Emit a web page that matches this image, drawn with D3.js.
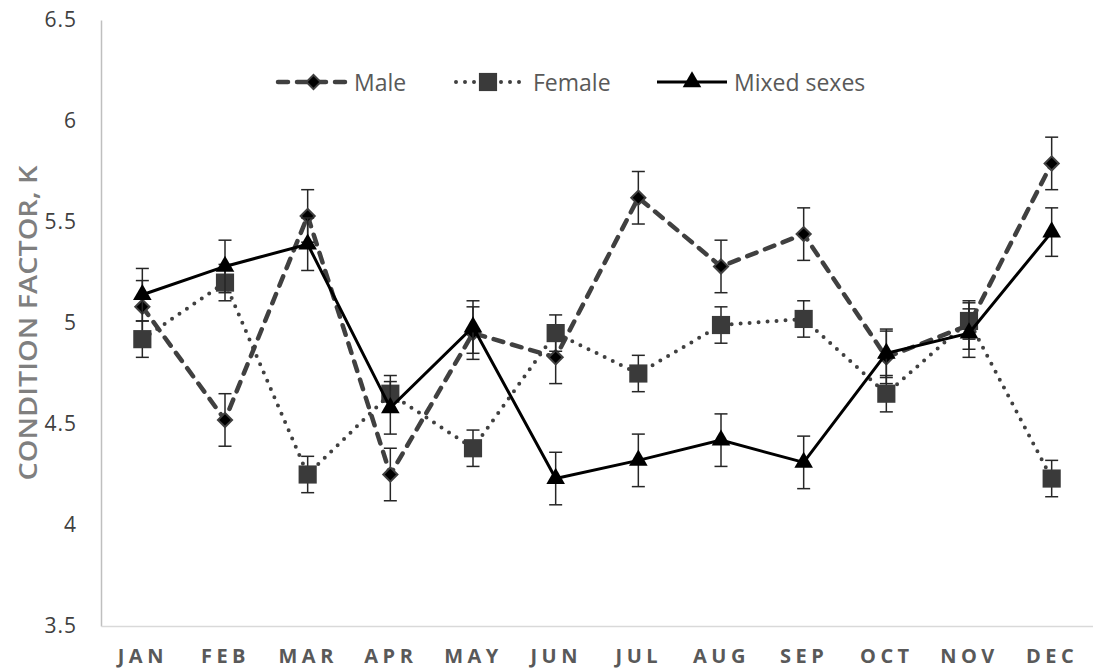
<!DOCTYPE html>
<html>
<head>
<meta charset="utf-8">
<script src="https://cdn.jsdelivr.net/npm/d3@7"></script>
<style>
  body { margin: 0; background: #fff; }
  svg { display: block; }
</style>
</head>
<body>
<div id="chart"></div>
<script>
// month categories and condition factor values
const months = ["JAN", "FEB", "MAR", "APR", "MAY", "JUN", "JUL", "AUG", "SEP", "OCT", "NOV", "DEC"];
const male = [5.08, 4.52, 5.53, 4.25, 4.95, 4.83, 5.62, 5.28, 5.44, 4.83, 4.99, 5.79];
const maleErr = [0.13, 0.13, 0.13, 0.13, 0.13, 0.13, 0.13, 0.13, 0.13, 0.13, 0.12, 0.13];
const female = [4.92, 5.20, 4.25, 4.65, 4.38, 4.95, 4.75, 4.99, 5.02, 4.65, 5.01, 4.23];
const femaleErr = [0.09, 0.09, 0.09, 0.09, 0.09, 0.09, 0.09, 0.09, 0.09, 0.09, 0.09, 0.09];
const mixed = [5.14, 5.28, 5.39, 4.58, 4.98, 4.23, 4.32, 4.42, 4.31, 4.85, 4.95, 5.45];
const mixedErr = [0.13, 0.13, 0.13, 0.13, 0.13, 0.13, 0.13, 0.13, 0.13, 0.12, 0.12, 0.12];
const yTicks = [3.5, 4, 4.5, 5, 5.5, 6, 6.5];

const width = 1093, height = 670;
const margin = { left: 101, right: 0, top: 20, bottom: 44 };

const svg = d3.select("#chart").append("svg")
  .attr("width", width)
  .attr("height", height);

const x = d3.scalePoint()
  .domain(months)
  .range([margin.left, width - margin.right])
  .padding(0.5);

const y = d3.scaleLinear()
  .domain([3.5, 6.5])
  .range([height - margin.bottom, margin.top]);

// y axis
const yAxisGroup = svg.append("g")
  .attr("transform", "translate(" + margin.left + ",0)")
  .call(d3.axisLeft(y).tickValues(yTicks).tickSize(0).tickPadding(24).tickFormat(d => String(d)));
yAxisGroup.select(".domain").attr("stroke", "#bfbfbf").attr("stroke-width", 1.5);
yAxisGroup.selectAll("text")
  .style("font-family", "'Open Sans', sans-serif")
  .style("font-size", "21px")
  .style("letter-spacing", "1px")
  .attr("fill", "#404040");

// x axis
const xAxisGroup = svg.append("g")
  .attr("transform", "translate(0," + (height - margin.bottom) + ")")
  .call(d3.axisBottom(x).tickSize(0).tickPadding(23));
xAxisGroup.select(".domain").attr("stroke", "#d9d9d9").attr("stroke-width", 1.5);
xAxisGroup.selectAll("text")
  .style("font-family", "'Open Sans', sans-serif")
  .style("font-size", "20px")
  .style("font-weight", "bold")
  .style("letter-spacing", "4.5px")
  .attr("fill", "#595959");

// y axis title (condensed look)
svg.append("text")
  .attr("transform", "translate(30," + y(5) + ") rotate(-90)")
  .attr("text-anchor", "middle")
  .attr("dominant-baseline", "middle")
  .attr("textLength", 315)
  .attr("lengthAdjust", "spacingAndGlyphs")
  .style("font-family", "'Open Sans', sans-serif")
  .style("font-size", "26px")
  .style("font-weight", "600")
  .attr("fill", "#7f7f7f")
  .text("CONDITION FACTOR, K");

const series = [
  { name: "Male", values: male, err: maleErr, color: "#404040", width: 4.5, dash: "10,9", cap: "round",
    symbol: d3.symbol().type(d3.symbolSquare).size(100)(), rotate: 45, fill: "#000", stroke: "#404040" },
  { name: "Female", values: female, err: femaleErr, color: "#404040", width: 4, dash: "0,9", cap: "round",
    symbol: d3.symbol().type(d3.symbolSquare).size(330)(), rotate: 0, fill: "#3a3a3a", stroke: "none" },
  { name: "Mixed sexes", values: mixed, err: mixedErr, color: "#000", width: 3, dash: null, cap: "butt",
    symbol: d3.symbol().type(d3.symbolTriangle).size(150)(), rotate: 0, fill: "#000", stroke: "none" }
];

const line = d3.line()
  .x((d, i) => x(months[i]))
  .y(d => y(d));

series.forEach(s => {
  const g = svg.append("g").attr("class", "series");

  g.append("path")
    .datum(s.values)
    .attr("d", line)
    .attr("fill", "none")
    .attr("stroke", s.color)
    .attr("stroke-width", s.width)
    .attr("stroke-dasharray", s.dash)
    .attr("stroke-linecap", s.cap);

  // error bars
  const eb = g.selectAll(".err")
    .data(s.values)
    .enter()
    .append("g")
    .attr("class", "err")
    .attr("stroke", "#262626")
    .attr("stroke-width", 1.5);
  eb.append("line")
    .attr("x1", (d, i) => x(months[i]))
    .attr("x2", (d, i) => x(months[i]))
    .attr("y1", (d, i) => y(d - s.err[i]))
    .attr("y2", (d, i) => y(d + s.err[i]));
  eb.append("line")
    .attr("x1", (d, i) => x(months[i]) - 6.5)
    .attr("x2", (d, i) => x(months[i]) + 6.5)
    .attr("y1", (d, i) => y(d + s.err[i]))
    .attr("y2", (d, i) => y(d + s.err[i]));
  eb.append("line")
    .attr("x1", (d, i) => x(months[i]) - 6.5)
    .attr("x2", (d, i) => x(months[i]) + 6.5)
    .attr("y1", (d, i) => y(d - s.err[i]))
    .attr("y2", (d, i) => y(d - s.err[i]));

  g.selectAll(".mark")
    .data(s.values)
    .enter()
    .append("path")
    .attr("class", "mark")
    .attr("d", s.symbol)
    .attr("transform", (d, i) => "translate(" + x(months[i]) + "," + y(d) + ") rotate(" + s.rotate + ")")
    .attr("fill", s.fill)
    .attr("stroke", s.stroke)
    .attr("stroke-width", 2);
});

// legend
const legendY = 82;
const legendPos = [
  { x1: 278, x2: 349, tx: 354 },
  { x1: 456, x2: 520, tx: 533 },
  { x1: 657, x2: 727, tx: 734 }
];
series.forEach((s, i) => {
  const p = legendPos[i];
  const lg = svg.append("g").attr("class", "legend");
  lg.append("line")
    .attr("x1", p.x1).attr("x2", p.x2)
    .attr("y1", legendY).attr("y2", legendY)
    .attr("stroke", s.color)
    .attr("stroke-width", s.width)
    .attr("stroke-dasharray", s.dash)
    .attr("stroke-linecap", s.cap);
  lg.append("path")
    .attr("d", s.symbol)
    .attr("transform", "translate(" + ((p.x1 + p.x2) / 2) + "," + legendY + ") rotate(" + s.rotate + ")")
    .attr("fill", s.fill)
    .attr("stroke", s.stroke)
    .attr("stroke-width", 2);
  lg.append("text")
    .attr("x", p.tx)
    .attr("y", legendY)
    .attr("dominant-baseline", "central")
    .style("font-family", "'Open Sans', sans-serif")
    .style("font-size", "23px")
    .attr("fill", "#595959")
    .text(s.name);
});
</script>
</body>
</html>
